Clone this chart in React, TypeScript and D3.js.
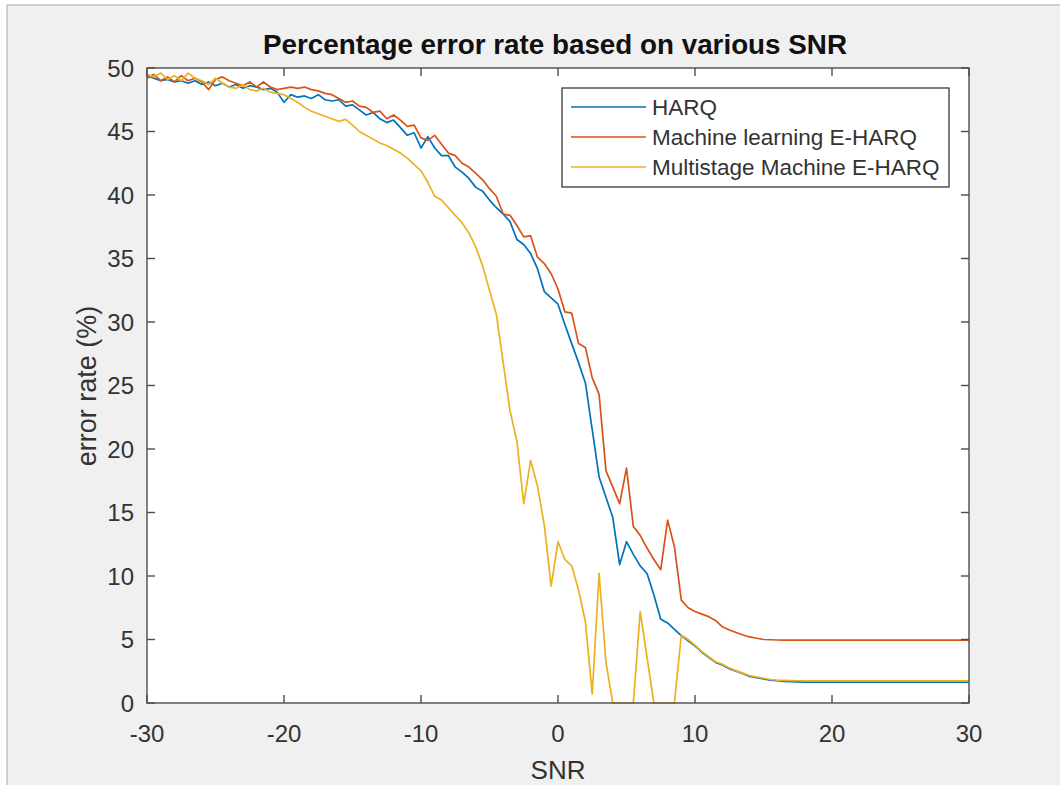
import React from 'react';
import * as d3 from 'd3';

// SNR grid, 0.5 dB steps from -30 to 30
const snr = d3.range(-30, 30.25, 0.5);

// values, grouped by 10 dB
const harq = [
  49.4, 49.2, 49.0, 49.1, 48.9, 49.0, 48.8, 49.0, 48.7, 48.9, 48.6, 48.8, 48.5, 48.7, 48.4, 48.6, 48.5, 48.3, 48.4, 48.1,
  47.3, 47.9, 47.7, 47.8, 47.6, 47.9, 47.5, 47.4, 47.5, 47.0, 47.1, 46.7, 46.3, 46.5, 46.0, 45.7, 45.9, 45.3, 44.7, 44.9,
  43.7, 44.6, 43.7, 43.1, 43.1, 42.2, 41.8, 41.3, 40.6, 40.3, 39.6, 39.0, 38.5, 37.9, 36.5, 36.1, 35.4, 34.2, 32.4, 31.9,
  31.4, 29.8, 28.3, 26.8, 25.2, 21.5, 17.8, 16.2, 14.6, 10.9, 12.7, 11.7, 10.8, 10.2, 8.5, 6.6, 6.3, 5.8, 5.3, 4.9,
  4.5, 4.0, 3.6, 3.2, 3.0, 2.7, 2.5, 2.3, 2.1, 2.0, 1.9, 1.8, 1.75, 1.7, 1.68, 1.66, 1.65, 1.65, 1.65, 1.65,
  1.65, 1.65, 1.65, 1.65, 1.65, 1.65, 1.65, 1.65, 1.65, 1.65, 1.65, 1.65, 1.65, 1.65, 1.65, 1.65, 1.65, 1.65, 1.65, 1.65, 1.65,
];

const mlEharq = [
  49.2, 49.5, 49.0, 49.3, 48.9, 49.4, 49.0, 49.2, 48.9, 48.3, 49.1, 49.3, 49.0, 48.8, 48.6, 48.9, 48.5, 48.9, 48.5, 48.3,
  48.4, 48.5, 48.4, 48.5, 48.3, 48.2, 48.0, 47.9, 47.6, 47.3, 47.4, 47.0, 46.9, 46.5, 46.6, 46.0, 46.3, 45.9, 45.4, 45.5,
  44.5, 44.3, 44.7, 44.0, 43.3, 43.1, 42.5, 42.2, 41.7, 41.2, 40.5, 39.9, 38.5, 38.4, 37.6, 36.7, 36.8, 35.1, 34.6, 33.8,
  32.6, 30.8, 30.7, 28.3, 28.0, 25.6, 24.3, 18.3, 17.0, 15.7, 18.5, 13.9, 13.2, 12.2, 11.3, 10.5, 14.4, 12.3, 8.1, 7.5,
  7.2, 7.0, 6.8, 6.5, 6.0, 5.75, 5.55, 5.35, 5.2, 5.1, 5.0, 4.98, 4.96, 4.95, 4.95, 4.95, 4.95, 4.95, 4.95, 4.95,
  4.95, 4.95, 4.95, 4.95, 4.95, 4.95, 4.95, 4.95, 4.95, 4.95, 4.95, 4.95, 4.95, 4.95, 4.95, 4.95, 4.95, 4.95, 4.95, 4.95, 4.95,
];

const multiEharq = [
  49.5, 49.3, 49.6, 49.1, 49.4, 49.0, 49.6, 49.2, 49.0, 48.7, 49.2, 48.8, 48.5, 48.4, 48.7, 48.3, 48.2, 48.4, 48.1, 48.0,
  47.9, 47.6, 47.3, 46.9, 46.6, 46.4, 46.2, 46.0, 45.8, 45.95, 45.5, 45.0, 44.7, 44.4, 44.1, 43.9, 43.6, 43.3, 42.9, 42.4,
  41.9, 41.0, 39.9, 39.6, 39.0, 38.4, 37.8, 37.0, 35.9, 34.4, 32.5, 30.6, 26.8, 23.0, 20.6, 15.7, 19.1, 17.1, 14.0, 9.2,
  12.7, 11.3, 10.8, 8.9, 6.4, 0.7, 10.2, 3.2, 0, 0, 0, 0, 7.2, 3.6, 0, 0, 0, 0, 5.35, 5.0,
  4.55, 4.05, 3.65, 3.25, 3.05, 2.75, 2.55, 2.35, 2.15, 2.05, 1.95, 1.85, 1.8, 1.78, 1.76, 1.75, 1.75, 1.75, 1.75, 1.75,
  1.75, 1.75, 1.75, 1.75, 1.75, 1.75, 1.75, 1.75, 1.75, 1.75, 1.75, 1.75, 1.75, 1.75, 1.75, 1.75, 1.75, 1.75, 1.75, 1.75, 1.75,
];

const seriesNames = ['HARQ', 'Machine learning E-HARQ', 'Multistage Machine E-HARQ'];
const seriesColors = ['#0072BD', '#D95319', '#EDB120'];
const xTicks = [-30, -20, -10, 0, 10, 20, 30];
const yTicks = [0, 5, 10, 15, 20, 25, 30, 35, 40, 45, 50];

function App() {
  const width = 1060;
  const height = 785;
  const plot = { left: 147, right: 969, top: 68, bottom: 703 };
  const font = 'Liberation Sans, Arial, Helvetica, sans-serif';
  const axisColor = '#4d4d4d';
  const textColor = '#333';
  const tickLen = 8;

  const x = d3.scaleLinear().domain([-30, 30]).range([plot.left, plot.right]);
  const y = d3.scaleLinear().domain([0, 50]).range([plot.bottom, plot.top]);

  const line = d3
    .line<number>()
    .x((d, i) => x(snr[i]))
    .y((d) => y(d));

  const series = [harq, mlEharq, multiEharq];

  // legend placement
  const lg = { x: 562, y: 88, w: 387, h: 99 };
  const rowY = [107, 137, 167];

  return (
    <svg
      width={width}
      height={height}
      style={{ position: 'absolute', left: 0, top: 0 }}
      fontFamily={font}
    >
      <rect x={0} y={0} width={width} height={height} fill="#fff" />
      <rect x={7} y={5} width={width - 7} height={height - 5} fill="#f0f0f0" />
      <line x1={7} y1={5} x2={width} y2={5} stroke="#a8a8a8" />
      <line x1={7} y1={5} x2={7} y2={height} stroke="#a8a8a8" />

      {/* plot area */}
      <rect
        x={plot.left}
        y={plot.top}
        width={plot.right - plot.left}
        height={plot.bottom - plot.top}
        fill="#fff"
      />

      {/* data lines */}
      {series.map((s, k) => (
        <path
          key={seriesNames[k]}
          d={line(s) || ''}
          fill="none"
          stroke={seriesColors[k]}
          strokeWidth={1.7}
          strokeLinejoin="round"
        />
      ))}

      {/* box */}
      <rect
        x={plot.left}
        y={plot.top}
        width={plot.right - plot.left}
        height={plot.bottom - plot.top}
        fill="none"
        stroke={axisColor}
        strokeWidth={1.4}
      />

      {/* x ticks */}
      {xTicks.map((t) => (
        <g key={'x' + t}>
          <line x1={x(t)} x2={x(t)} y1={plot.bottom} y2={plot.bottom - tickLen} stroke={axisColor} strokeWidth={1.4} />
          <line x1={x(t)} x2={x(t)} y1={plot.top} y2={plot.top + tickLen} stroke={axisColor} strokeWidth={1.4} />
          <text x={x(t)} y={742} textAnchor="middle" fontSize={24} fill={textColor}>
            {t}
          </text>
        </g>
      ))}

      {/* y ticks */}
      {yTicks.map((t) => (
        <g key={'y' + t}>
          <line x1={plot.left} x2={plot.left + tickLen} y1={y(t)} y2={y(t)} stroke={axisColor} strokeWidth={1.4} />
          <line x1={plot.right} x2={plot.right - tickLen} y1={y(t)} y2={y(t)} stroke={axisColor} strokeWidth={1.4} />
          <text x={134} y={y(t) + 8.5} textAnchor="end" fontSize={24} fill={textColor}>
            {t}
          </text>
        </g>
      ))}

      {/* labels */}
      <text x={558} y={779} textAnchor="middle" fontSize={26} fill={textColor}>
        SNR
      </text>
      <text
        transform="translate(96,386) rotate(-90)"
        textAnchor="middle"
        fontSize={27}
        fill={textColor}
      >
        error rate (%)
      </text>
      <text x={555} y={54} textAnchor="middle" fontSize={27.8} fontWeight="bold" fill="#111">
        Percentage error rate based on various SNR
      </text>

      {/* legend */}
      <rect x={lg.x} y={lg.y} width={lg.w} height={lg.h} fill="#fff" stroke="#3a3a3a" strokeWidth={1.3} />
      {seriesNames.map((name, k) => (
        <g key={'lg' + name}>
          <line x1={571} x2={646} y1={rowY[k]} y2={rowY[k]} stroke={seriesColors[k]} strokeWidth={1.7} />
          <text x={652} y={rowY[k] + 8} fontSize={22.5} fill={textColor}>
            {name}
          </text>
        </g>
      ))}
    </svg>
  );
}

export default App;
